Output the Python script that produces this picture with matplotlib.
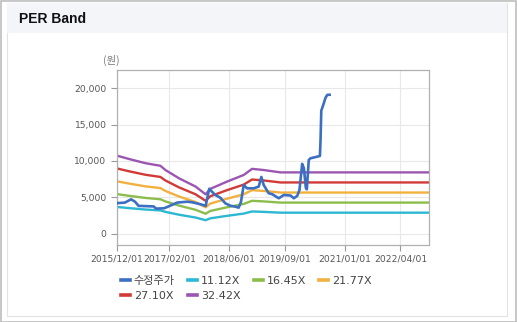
#!/usr/bin/env python3

import matplotlib
matplotlib.use("Agg")
import matplotlib.pyplot as plt
from matplotlib.patches import Rectangle
import pandas as pd

plt.rcParams['font.family'] = ['DejaVu Sans', 'Noto Sans CJK KR']

# adjusted close price (수정주가)
price_dates = ["2015-12-01", "2016-02-04", "2016-03-25", "2016-04-26", "2016-05-25",
               "2016-09-25", "2016-10-15", "2016-12-20", "2017-02-07", "2017-04-05",
               "2017-06-26", "2017-08-06", "2017-10-10", "2017-11-24", "2017-12-06",
               "2017-12-23", "2018-01-14", "2018-02-10", "2018-03-23", "2018-05-03",
               "2018-06-13", "2018-07-24", "2018-08-20", "2018-09-08", "2018-09-30",
               "2018-10-27", "2018-12-20", "2019-01-30", "2019-02-21", "2019-03-12",
               "2019-04-22", "2019-05-22", "2019-07-13", "2019-08-23", "2019-10-17",
               "2019-11-13", "2019-12-11", "2019-12-29", "2020-01-20", "2020-02-03",
               "2020-02-19", "2020-02-27", "2020-03-14", "2020-03-28", "2020-05-22",
               "2020-06-13", "2020-06-18", "2020-06-24", "2020-07-10", "2020-07-29",
               "2020-08-12", "2020-08-31"]
price = [4200, 4280, 4730, 4400, 3830,
         3750, 3450, 3500, 3850, 4280,
         4400, 4320, 4060, 3830, 4870,
         6180, 5780, 5320, 4950, 4180,
         3850, 3715, 3580, 4400, 6700,
         6240, 6240, 6470, 7800, 6700,
         5560, 5420, 4870, 5320, 5250,
         4870, 5200, 6010, 9600, 9000,
         6300, 6100, 10140, 10370, 10590,
         10690, 12890, 16900, 17700, 18700,
         19080, 19100]

# EPS used for the PER bands
eps_dates = ["2015-12-01", "2016-03-06", "2016-07-20", "2016-11-19", "2016-12-30",
             "2017-04-20", "2017-09-02", "2017-11-23", "2017-12-31", "2018-05-17",
             "2018-09-30", "2018-12-07", "2019-03-12", "2019-07-27", "2022-11-20"]
eps = [331, 317, 299, 288, 270,
       235, 200, 167, 190, 221,
       249, 275, 270, 260, 260]

multiples = [11.12, 16.45, 21.77, 27.10, 32.42]
band_labels = ["11.12X", "16.45X", "21.77X", "27.10X", "32.42X"]
band_colors = ["#2cb8d2", "#8cbd4c", "#f2b03e", "#d13a37", "#9b56b2"]

xtick_labels = ["2015/12/01", "2017/02/01", "2018/06/01", "2019/09/01", "2021/01/01", "2022/04/01"]
yticks = [0, 5000, 10000, 15000, 20000]

pd_price_dates = pd.to_datetime(price_dates)
pd_eps_dates = pd.to_datetime(eps_dates)
eps_s = pd.Series(eps, index=pd_eps_dates)

fig = plt.figure()
fig.set_size_inches(5.17, 3.22)

# panel frame + header strip
fig.patches.append(Rectangle((0.001, 0.001), 0.997, 0.996, transform=fig.transFigure,
                             fill=False, edgecolor="#bdbdbd", lw=1.2))
fig.patches.append(Rectangle((7 / 517, 1 - 316 / 322), 500 / 517, 313 / 322, transform=fig.transFigure,
                             fill=False, edgecolor="#e2e2e2", lw=0.8))
fig.patches.append(Rectangle((7 / 517, 1 - 33 / 322), 500 / 517, 30 / 322, transform=fig.transFigure,
                             facecolor="#f3f5f9", edgecolor="none"))
fig.text(19 / 517, 1 - 19 / 322, "PER Band", fontsize=10, fontweight="bold",
         family=["Liberation Sans", "DejaVu Sans"], va="center", ha="left", color="#111111")
fig.text(111 / 517, 1 - 60 / 322, "(원)", fontsize=7.5, color="#777777", ha="center", va="center",
         family=["Noto Sans CJK KR", "DejaVu Sans"])

ax = fig.add_axes([117 / 517, 1 - 245 / 322, 312 / 517, 175 / 322])

l_price, = ax.plot(pd_price_dates, price, color="#3c6fc2", lw=1.9, label="수정주가", zorder=5)
band_handles = []
for m, lab, c in zip(multiples, band_labels, band_colors):
    h, = ax.plot(eps_s.index, eps_s.values * m, color=c, lw=1.7, label=lab)
    band_handles.append(h)

ax.set_ylim(-1550, 22500)
ax.set_xlim(pd.Timestamp("2015-12-01"), pd.Timestamp("2022-11-20"))
ax.set_yticks(yticks)
ax.set_yticklabels(["{:,}".format(v) for v in yticks])
xt = pd.to_datetime([s.replace("/", "-") for s in xtick_labels])
ax.set_xticks(xt)
ax.set_xticklabels(xtick_labels)
ax.tick_params(axis="both", labelsize=6.6, colors="#999999", labelcolor="#555555", length=4, width=0.8)
ax.tick_params(axis="x", pad=3)
ax.grid(True, color="#e8e8e8", lw=0.8)
ax.set_axisbelow(True)
for sp in ax.spines.values():
    sp.set_color("#b0b0b0")
    sp.set_linewidth(0.9)

# legend is filled column by column, so interleave to get rows
b = band_handles
handles = [l_price, b[3], b[0], b[4], b[1], b[2]]
leg = fig.legend(handles=handles, loc="upper left", bbox_to_anchor=(121 / 517, 1 - 276 / 322),
                 ncol=4, frameon=False, fontsize=8, handlelength=0.8, handletextpad=0.35,
                 columnspacing=1.2, labelspacing=0.45, borderpad=0, borderaxespad=0)
for t in leg.get_texts():
    t.set_color("#444444")
for h in leg.legend_handles:
    h.set_linewidth(2.6)

fig.savefig("out.png", dpi=100)
